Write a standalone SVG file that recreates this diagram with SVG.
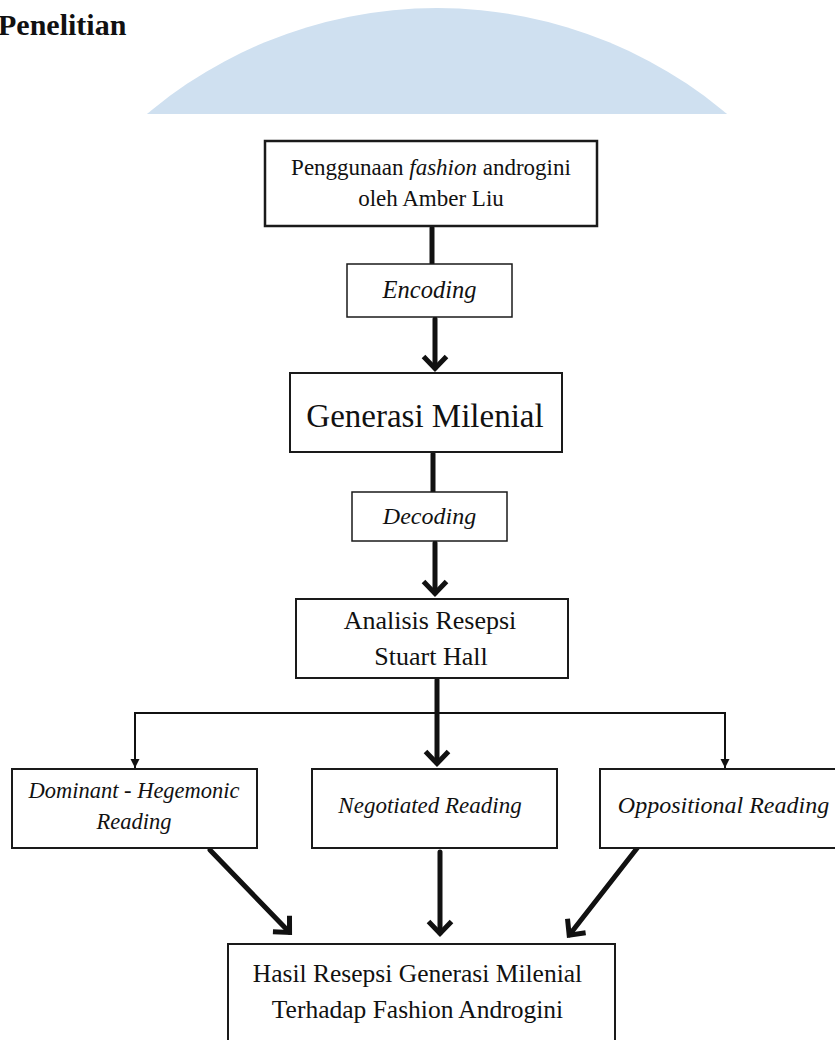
<svg xmlns="http://www.w3.org/2000/svg" width="835" height="1040" viewBox="0 0 835 1040">
  <style>
    .box { fill: #ffffff; stroke: #1a1a1a; stroke-width: 2; }
    .t { font-family: "Liberation Serif", "Times New Roman", serif; fill: #111; text-anchor: middle; }
    .i { font-style: italic; }
    .thick { fill: none; stroke: #111; stroke-width: 5; stroke-linecap: round; }
    .thin { fill: none; stroke: #111; stroke-width: 2; }
  </style>
  <defs>
    <clipPath id="topclip"><rect x="0" y="0" width="835" height="114"/></clipPath>
    <marker id="ah" markerUnits="userSpaceOnUse" viewBox="-20 -20 40 40" markerWidth="40" markerHeight="40" refX="0" refY="0" orient="auto" overflow="visible">
      <path d="M-11.5,-11.5 L0.5,0 L-11.5,11.5" fill="none" stroke="#111" stroke-width="5" stroke-linejoin="miter"/>
    </marker>
    <marker id="as" markerUnits="userSpaceOnUse" viewBox="-10 -10 20 20" markerWidth="20" markerHeight="20" refX="0" refY="0" orient="auto" overflow="visible">
      <path d="M-9,-4.5 L0,0 L-9,4.5 Z" fill="#111"/>
    </marker>
  </defs>

  <g id="watermark">
    <circle cx="437" cy="458" r="450" fill="#cfe0f0" clip-path="url(#topclip)"/>
  </g>

  <g id="heading">
    <text class="t" x="-2" y="35" font-size="30" font-weight="bold" style="text-anchor:start">Penelitian</text>
  </g>

  <g id="connectors">
    <path class="thick" d="M432,228 V263"/>
    <path class="thick" d="M435,319 V368" marker-end="url(#ah)"/>
    <path class="thick" d="M433,454 V491"/>
    <path class="thick" d="M435,543 V593" marker-end="url(#ah)"/>
    <path class="thick" d="M437,680 V763" marker-end="url(#ah)"/>
    <path class="thin" d="M437,713 H135 V768" marker-end="url(#as)"/>
    <path class="thin" d="M437,713 H725 V768" marker-end="url(#as)"/>
    <path class="thick" d="M210,850 L289.2,932.1" marker-end="url(#ah)"/>
    <path class="thick" d="M440,852 V933" marker-end="url(#ah)"/>
    <path class="thick" d="M638,847 L569.5,934.8" marker-end="url(#ah)"/>
  </g>

  <g id="node-penggunaan">
    <rect class="box" x="265" y="141" width="332" height="85" style="stroke-width:2.5"/>
    <text class="t" x="431" y="175" font-size="23">Penggunaan <tspan class="i">fashion</tspan> androgini</text>
    <text class="t" x="431" y="206" font-size="23">oleh Amber Liu</text>
  </g>

  <g id="node-encoding">
    <rect class="box" x="347" y="264" width="165" height="53" style="stroke-width:1.5"/>
    <text class="t i" x="429.5" y="298" font-size="24.5">Encoding</text>
  </g>

  <g id="node-generasi">
    <rect class="box" x="290" y="373" width="272" height="79"/>
    <text class="t" x="425" y="427" font-size="33">Generasi Milenial</text>
  </g>

  <g id="node-decoding">
    <rect class="box" x="352" y="492" width="155" height="49" style="stroke-width:1.5"/>
    <text class="t i" x="429.5" y="524" font-size="24">Decoding</text>
  </g>

  <g id="node-analisis">
    <rect class="box" x="296" y="599" width="272" height="79"/>
    <text class="t" x="430" y="629" font-size="26">Analisis Resepsi</text>
    <text class="t" x="431" y="665" font-size="26">Stuart Hall</text>
  </g>

  <g id="node-dominant">
    <rect class="box" x="12" y="769" width="245" height="79"/>
    <text class="t i" x="134" y="798" font-size="22.5">Dominant - Hegemonic</text>
    <text class="t i" x="134" y="829" font-size="22.5">Reading</text>
  </g>

  <g id="node-negotiated">
    <rect class="box" x="312" y="769" width="245" height="79"/>
    <text class="t i" x="430" y="813" font-size="23">Negotiated Reading</text>
  </g>

  <g id="node-oppositional">
    <rect class="box" x="600" y="769" width="240" height="79"/>
    <text class="t i" x="723.5" y="813" font-size="24">Oppositional Reading</text>
  </g>

  <g id="node-hasil">
    <rect class="box" x="228" y="944" width="387" height="110"/>
    <text class="t" x="417.5" y="982" font-size="25.5">Hasil Resepsi Generasi Milenial</text>
    <text class="t" x="417.5" y="1018" font-size="25.5">Terhadap Fashion Androgini</text>
  </g>
</svg>
